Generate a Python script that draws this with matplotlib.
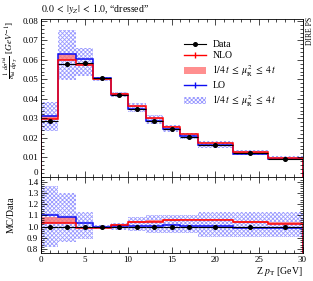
import numpy as np
import matplotlib
matplotlib.use("Agg")
import matplotlib.pyplot as plt
from matplotlib.lines import Line2D
from matplotlib.patches import Patch
from matplotlib.ticker import MultipleLocator, FormatStrFormatter

plt.rcParams['font.family'] = ['Liberation Serif', 'DejaVu Serif']
plt.rcParams['mathtext.fontset'] = 'stix'
plt.rcParams['hatch.linewidth'] = 0.6

# ---- data ----
edges = [0, 2, 4, 6, 8, 10, 12, 14, 16, 18, 22, 26, 30]
data = [0.0284, 0.0580, 0.0583, 0.0506, 0.0420, 0.0347, 0.0287, 0.0243, 0.0206, 0.0164, 0.0120, 0.0092]
nlo_ratio = [1.035, 1.030, 0.988, 0.988, 1.012, 1.040, 1.042, 1.055, 1.060, 1.060, 1.040, 1.027]
nlo_band_lo = [1.035, 1.030, 0.985, 0.985, 1.008, 1.036, 1.038, 1.050, 1.055, 1.055, 1.035, 1.022]
nlo_band_hi = [1.090, 1.085, 1.000, 0.998, 1.020, 1.050, 1.055, 1.065, 1.070, 1.070, 1.050, 1.037]
lo_ratio = [1.104, 1.090, 1.036, 1.000, 1.005, 1.005, 1.005, 1.010, 1.005, 1.005, 0.990, 0.985]
lo_band_lo = [0.82, 0.86, 0.89, 0.975, 0.970, 0.960, 0.945, 0.945, 0.940, 0.910, 0.910, 0.910]
lo_band_hi = [1.36, 1.30, 1.13, 1.015, 1.030, 1.090, 1.100, 1.100, 1.100, 1.130, 1.130, 1.130]

edges = np.array(edges, float)
data = np.array(data)
centers = 0.5 * (edges[1:] + edges[:-1])
halfw = 0.5 * (edges[1:] - edges[:-1])

RED = (1.0, 0.0, 0.0)
BLUE = (0.05, 0.05, 0.95)
RED_BAND = (1.0, 0.45, 0.45)
HATCH_C = (0.35, 0.35, 1.0, 0.6)
HATCH = 'xxxxxxxx'

fig = plt.figure(figsize=(3.13, 2.81), dpi=100)
W, H = 313.0, 281.0
x0, x1 = 41.0, 302.5
ax = fig.add_axes([x0 / W, 1 - 176.7 / H, (x1 - x0) / W, (176.7 - 19.0) / H])
rx = fig.add_axes([x0 / W, 1 - 253.3 / H, (x1 - x0) / W, (253.3 - 176.7) / H], sharex=ax)


def band(a, lo, hi, **kw):
    for i in range(len(lo)):
        a.fill_between([edges[i], edges[i + 1]], [lo[i]] * 2, [hi[i]] * 2, linewidth=0, **kw)


nlo = np.array(nlo_ratio) * data
lo = np.array(lo_ratio) * data

# main panel
band(ax, np.array(lo_band_lo) * data, np.array(lo_band_hi) * data,
     facecolor='none', hatch=HATCH, edgecolor=HATCH_C)
band(ax, np.array(nlo_band_lo) * data, np.array(nlo_band_hi) * data, facecolor=RED_BAND, alpha=0.8)
ax.stairs(lo, edges, color=BLUE, lw=1.1)
ax.stairs(nlo, edges, color=RED, lw=1.1)
ax.errorbar(centers, data, xerr=halfw, yerr=0.004 * data, fmt='o', color='black',
            ms=2.6, lw=0.8, capsize=0)

# ratio panel
band(rx, lo_band_lo, lo_band_hi, facecolor='none', hatch=HATCH, edgecolor=HATCH_C)
band(rx, nlo_band_lo, nlo_band_hi, facecolor=RED_BAND, alpha=0.8)
rx.stairs(lo_ratio, edges, color=BLUE, lw=1.1)
rx.stairs(nlo_ratio, edges, color=RED, lw=1.1)
rx.errorbar(centers, np.ones_like(data), xerr=halfw, fmt='o', color='black', ms=2.6, lw=0.8)

ax.set_xlim(0, 30)
ax.set_ylim(0, 0.081)
rx.set_ylim(0.762, 1.445)

for a in (ax, rx):
    a.tick_params(which='both', direction='in', top=True, right=True, labelsize=6.5, pad=2)
    a.tick_params(which='major', length=4.5, width=0.5)
    a.tick_params(which='minor', length=2.3, width=0.5)
    for s in a.spines.values():
        s.set_linewidth(0.6)
    a.xaxis.set_major_locator(MultipleLocator(5))
    a.xaxis.set_minor_locator(MultipleLocator(1))

ax.yaxis.set_minor_locator(MultipleLocator(0.002))
ax.tick_params(labelbottom=False)
ax.set_yticks([0, 0.01, 0.02, 0.03, 0.04, 0.05, 0.06, 0.07, 0.08])
ax.set_yticklabels(['0', '0.01', '0.02', '0.03', '0.04', '0.05', '0.06', '0.07', '0.08'])
ax.get_yticklabels()[0].set_va('bottom')

rx.yaxis.set_major_locator(MultipleLocator(0.1))
rx.yaxis.set_minor_locator(MultipleLocator(0.02))
rx.yaxis.set_major_formatter(FormatStrFormatter('%.1f'))

ax.set_ylabel(r'$\frac{1}{\sigma_{\rm fid}}\frac{d\sigma^{\rm fid}}{dp_T}$ [$GeV^{-1}$]', fontsize=6.7,
              loc='top')
rx.set_ylabel('MC/Data', fontsize=7)
rx.set_xlabel(r'Z $p_{\rm T}$ [GeV]', fontsize=7, loc='right', labelpad=1)
ax.yaxis.set_label_coords(-0.082, 0.99)
rx.yaxis.set_label_coords(-0.098, 0.5)

fig.text(x0 / W, 1 - 9.5 / H, r'$0.0\;<\;|y_Z|\;<\;1.0$, “dressed”', fontsize=7, ha='left', va='center')
fig.text(305.5 / W, 1 - 17 / H, 'DIRE PS', fontsize=5.5, rotation=90, ha='left', va='top')

handles = [
    Line2D([], [], color='black', marker='o', ms=2.6, lw=0.8),
    Line2D([], [], color=RED, marker='|', ms=5, lw=1.0),
    Patch(facecolor=RED_BAND, alpha=0.8, linewidth=0),
    Line2D([], [], color=BLUE, marker='|', ms=5, lw=1.0),
    Patch(facecolor='none', hatch=HATCH, edgecolor=HATCH_C, linewidth=0),
]
band_lbl = r'$1/4\,t\;\leq\;\mu_{\rm R}^2\;\leq\;4\,t$'
labels = ['Data', 'NLO', band_lbl, 'LO', band_lbl]
ax.legend(handles, labels, loc='upper left', bbox_to_anchor=((184 - x0) / (x1 - x0), (176.7 - 40) / (176.7 - 19.0)),
          frameon=False, fontsize=7, handlelength=2.3, handletextpad=0.6, labelspacing=0.25,
          borderaxespad=0, borderpad=0)

fig.savefig('out.png', dpi=100)
